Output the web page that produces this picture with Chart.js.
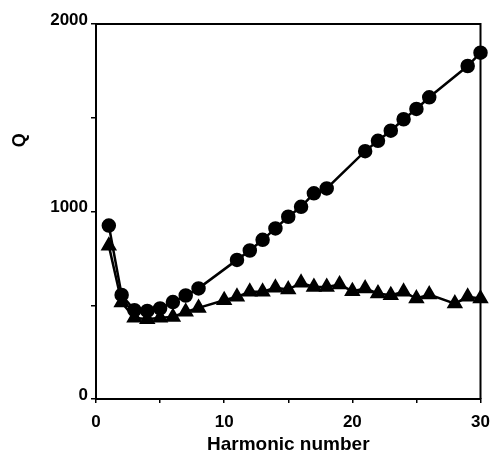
<!DOCTYPE html>
<html>
<head>
<meta charset="UTF-8">
<script src="https://cdn.jsdelivr.net/npm/chart.js"></script>
<style>
  body { margin: 0; background: #fff; }
  #wrap { width: 490px; height: 454px; }
</style>
</head>
<body>
<div id="wrap"><canvas id="c"></canvas></div>
<script>
// harmonic number vs Q, two series
const circleX = [1, 2, 3, 4, 5, 6, 7, 8, 11, 12, 13, 14, 15, 16, 17, 18, 21, 22, 23, 24, 25, 26, 29, 30];
const circleQ = [925, 555, 474, 470, 483, 517, 552, 590, 742, 792, 849, 910, 972, 1025, 1097, 1123, 1322, 1377, 1431, 1492, 1547, 1609, 1776, 1847];
const triX = [1, 2, 3, 4, 5, 6, 7, 8, 10, 11, 12, 13, 14, 15, 16, 17, 18, 19, 20, 21, 22, 23, 24, 25, 26, 28, 29, 30];
const triQ = [818, 515, 433, 425, 433, 438, 465, 486, 527, 545, 572, 572, 593, 584, 620, 598, 598, 611, 575, 589, 563, 554, 572, 536, 557, 509, 545, 536];
const xTicks = [0, 10, 20, 30];
const yTicks = [0, 1000, 2000];

const FONT = "'Liberation Sans', Arial, sans-serif";
const pts = (xs, ys) => xs.map((x, i) => ({ x, y: ys[i] }));

// frame top/right + rotated Q label
const framePlugin = {
    id: 'frame',
    afterDraw(chart) {
        const { ctx, chartArea: a, scales } = chart;
        ctx.save();
        ctx.strokeStyle = '#000'; ctx.lineWidth = 2;
        ctx.beginPath();
        ctx.moveTo(a.left, a.top); ctx.lineTo(a.right, a.top); ctx.lineTo(a.right, a.bottom);
        ctx.stroke();
        ctx.translate(20, scales.y.getPixelForValue(1380));
        ctx.rotate(-Math.PI / 2);
        ctx.font = 'bold 18px ' + FONT;
        ctx.fillStyle = '#000'; ctx.textAlign = 'center'; ctx.textBaseline = 'middle';
        ctx.fillText('Q', 0, 0);
        ctx.restore();
    }
};

new Chart(document.getElementById('c'), {
    type: 'line',
    data: {
        datasets: [
            { data: pts(circleX, circleQ), borderColor: '#000', backgroundColor: '#000', borderWidth: 2.5,
              pointStyle: 'circle', pointRadius: 6, pointHoverRadius: 6, tension: 0, clip: false },
            { data: pts(triX, triQ), borderColor: '#000', backgroundColor: '#000', borderWidth: 2.5,
              pointStyle: 'triangle', pointRadius: 7, pointHoverRadius: 7, tension: 0, clip: false }
        ]
    },
    options: {
        responsive: true, maintainAspectRatio: false, animation: false,
        layout: { padding: { left: 0, right: 0, top: 24, bottom: 0 } },
        plugins: { legend: { display: false }, tooltip: { enabled: false } },
        scales: {
            x: {
                type: 'linear', min: 0, max: 30,
                afterFit: s => { s.height = 55; s.paddingRight = 9; },
                ticks: { stepSize: 5, autoSkip: false, maxRotation: 0, padding: 9, color: '#000',
                         font: { family: FONT, size: 17, weight: 'bold' },
                         callback: v => xTicks.includes(v) ? v : '' },
                grid: { drawOnChartArea: false, tickLength: 4, color: '#000', lineWidth: 1.5 },
                border: { color: '#000', width: 2 },
                title: { display: true, text: 'Harmonic number', color: '#000', padding: 0,
                         font: { family: FONT, size: 19, weight: 'bold', lineHeight: 1 } }
            },
            y: {
                min: 0, max: 2000,
                afterFit: s => { s.width = 96; },
                ticks: { stepSize: 500, autoSkip: false, padding: 3, labelOffset: -4, color: '#000',
                         font: { family: FONT, size: 17, weight: 'bold' },
                         callback: v => yTicks.includes(v) ? v : '' },
                grid: { drawOnChartArea: false, tickLength: 5, color: '#000', lineWidth: 1.5 },
                border: { color: '#000', width: 2 }
            }
        }
    },
    plugins: [framePlugin]
});
</script>
</body>
</html>
